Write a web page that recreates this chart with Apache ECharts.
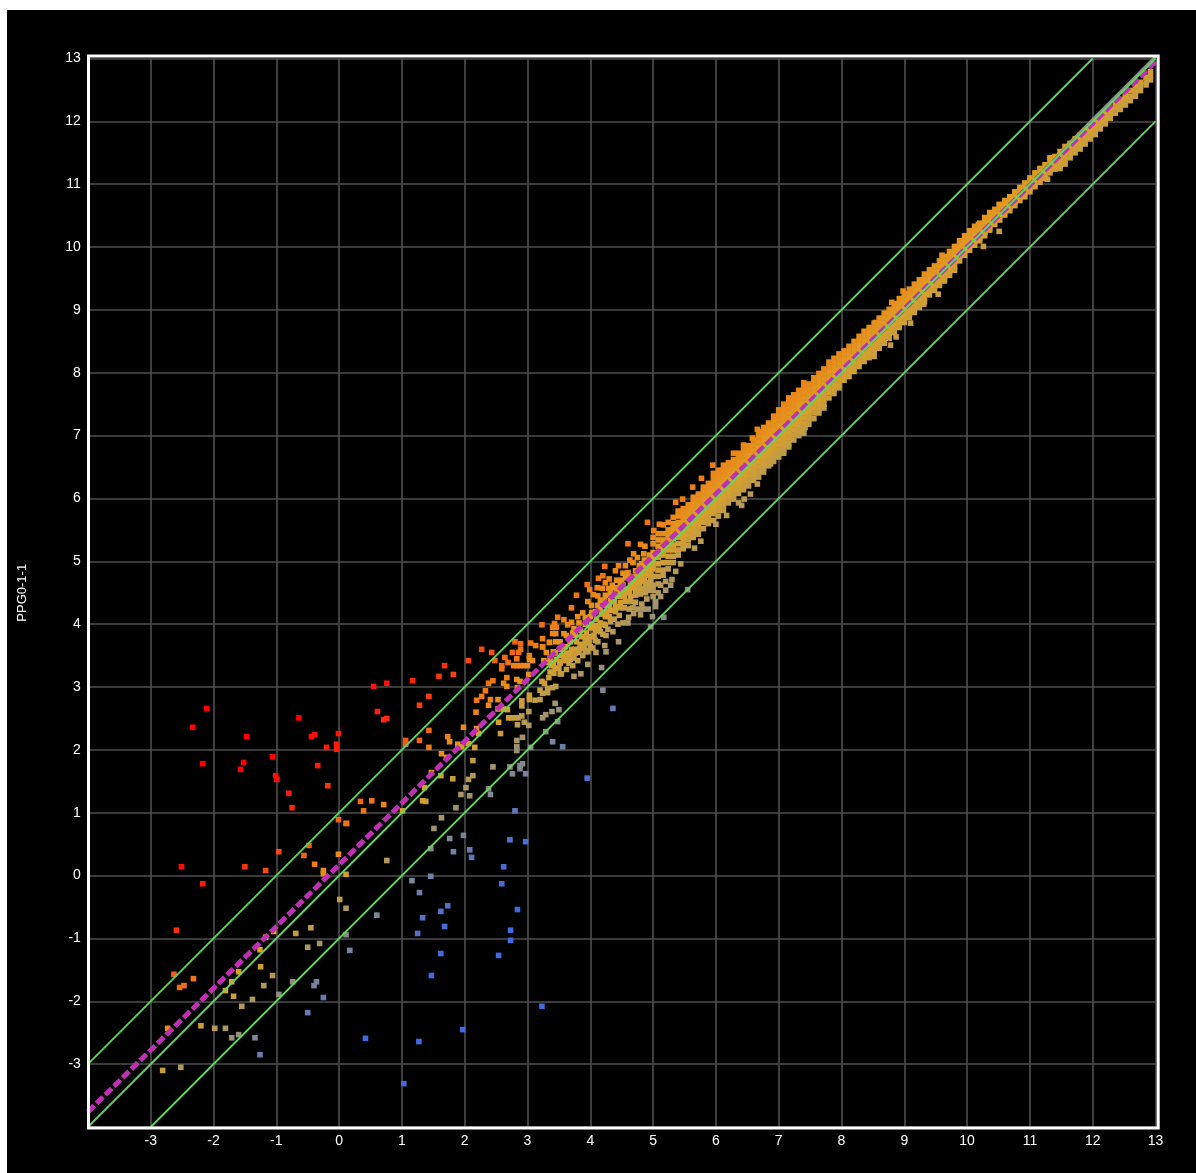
<!DOCTYPE html>
<html><head><meta charset="utf-8">
<style>
html,body{margin:0;padding:0;background:#fff;overflow:hidden}
#back{position:absolute;left:7px;top:10px;background:#000;width:1189px;height:1163px}
#chart{position:absolute;left:0;top:0;width:1196px;height:1173px}
</style>
<script src="https://cdn.jsdelivr.net/npm/echarts@6/dist/echarts.min.js"></script>
</head><body><div id="back"></div><div id="chart"></div>
<script>
const axisTicks = ['-3','-2','-1','0','1','2','3','4','5','6','7','8','9','10','11','12','13'];
const yAxisTitle = 'PPG0-1-1';
const lineUpper = [[-4,-3],[12,13]];
const lineMiddle = [[-4,-4],[13,13]];
const lineLower = [[-3,-4],[13,12]];
const lineGrey = [[11.4,11.43],[13,13.03]];
const lineFit = [[-4,-3.76],[13,12.95]];

const highOutliers = [[-2.11,2.66],[-2.33,2.36],[-0.64,2.51],[-1.47,2.21],[-0.39,2.24],[-0.44,2.21],[-0.01,2.26],[-0.04,2.09],[-0.04,2.01],[-0.2,2.04],[-1.06,1.89],[-2.17,1.78],[-1.52,1.8],[-1.57,1.69],[-0.34,1.75],[-1.01,1.59],[-0.99,1.53],[-0.18,1.43],[-0.8,1.31],[-0.75,1.08],[-0.01,0.89],[0.11,0.83],[-0.48,0.48],[-0.96,0.38],[-0.56,0.32],[-0.01,0.34],[-0.39,0.18],[-2.51,0.14],[-1.5,0.14],[-1.17,0.08],[-0.25,0.08],[-0.25,0.03],[-2.17,-0.13],[-2.59,-0.87],[-2.63,-1.57],[-2.32,-1.64],[-2.47,-1.75],[-2.54,-1.78],[-2.73,-2.43]];
const lowTail = [[0.01,-0.38],[0.11,0.02],[0.11,-0.52],[0.11,-0.94],[-0.45,-0.83],[-0.69,-0.92],[-1.04,-0.89],[-1.17,-0.98],[-0.31,-1.08],[-0.5,-1.14],[0.17,-1.19],[-1.26,-1.18],[-1.25,-1.45],[-1.6,-1.53],[-1.06,-1.59],[-1.71,-1.69],[-0.74,-1.69],[-0.36,-1.69],[-0.4,-1.75],[-1.2,-1.75],[-1.81,-1.83],[-0.96,-1.89],[-1.68,-1.92],[-1.38,-1.97],[-0.25,-1.94],[-1.55,-2.08],[-0.5,-2.18],[-2.2,-2.39],[-1.98,-2.43],[-1.81,-2.43],[-1.71,-2.58],[-1.6,-2.53],[-1.34,-2.58],[-1.26,-2.85],[-2.81,-3.1],[-2.52,-3.05]];
const upperScatter = [[0.55,3.01],[0.76,3.06],[1.17,3.1],[1.59,3.17],[1.68,3.34],[1.82,3.2],[2.06,3.42],[2.27,3.6],[2.43,3.55],[2.48,3.42],[2.64,3.47],[2.69,3.39],[2.59,3.34],[2.59,3.29],[2.8,3.72],[2.89,3.69],[2.76,3.55],[2.89,3.6],[2.86,3.55],[2.83,3.45],[2.78,3.34],[2.83,3.34],[2.89,3.34],[2.94,3.34],[3,3.34],[3.03,3.5],[3.03,3.44],[3.08,3.42],[3.05,3.7],[3.13,3.66],[3.24,3.64],[3.35,3.71],[3.45,3.72],[1.28,2.71],[1.43,2.85],[0.61,2.61],[0.76,2.5],[0.71,2.48],[2.38,3.06],[2.45,3.1],[2.67,3.15],[2.62,3.06],[2.67,3.01],[2.83,3.12],[2.88,3.09],[2.84,2.99],[2.33,2.94],[2.27,2.85],[2.19,2.79],[2.41,2.8],[2.53,2.8],[2.38,2.71],[2.18,2.6],[1.98,2.36],[1.43,2.31],[1.73,2.21],[1.76,2.13],[1.28,2.15],[1.06,2.15],[1.06,2.09],[1.43,2.04],[1.89,2.09],[1.95,2.05],[2.19,2.34],[2.22,2.26],[2.16,2.04],[2.06,2.1],[1.63,1.94],[1.71,1.88],[0.34,1.18],[0.52,1.19],[0.71,1.13],[0.39,1.03],[0.12,0.83],[1.47,1.64],[1.36,1.4],[1.01,1.03]];
const lowerScatter = [[2.13,1.83],[2.45,1.73],[2.72,1.73],[2.88,1.7],[2.88,1.75],[2.92,1.78],[2.76,1.62],[2.97,1.62],[1.62,1.59],[1.81,1.54],[2.13,1.59],[2.06,1.53],[2.02,1.4],[2.38,1.38],[2.41,1.29],[1.94,1.29],[2.08,1.27],[1.33,1.19],[1.38,1.18],[1.86,1.08],[2.8,1.03],[1.63,0.92],[1.51,0.75],[1.98,0.64],[1.76,0.59],[2.72,0.57],[2.97,0.54],[1.46,0.43],[1.82,0.38],[2.08,0.41],[2.11,0.29],[0.76,0.24],[3.02,2.61],[2.84,2.4],[3.02,2.39],[2.7,2.51],[2.75,2.51],[2.8,2.51],[2.85,2.51],[2.91,2.54],[2.95,2.44],[2.54,2.44],[2.57,2.26],[2.83,2.15],[2.92,2.2],[2.83,2.05],[2.83,1.99],[3.05,2.04],[3.29,2.29],[3.4,2.13],[3.48,2.45],[3.24,2.51],[3.29,2.56],[3.39,2.61],[3.5,2.64],[3.44,2.74],[2.91,2.78],[2.91,2.7],[2.68,2.64],[2.62,2.65],[2.53,2.65],[3.03,2.87],[3.03,2.8],[3.12,2.79],[3.2,2.8],[3.2,2.95],[3.24,2.9],[3.32,2.98],[3.32,2.91],[3.4,2.99],[3.45,3.01],[3.23,3.09],[3.27,3.06],[3.34,3.15],[3.02,3.2],[3.26,3.42],[3.34,3.39],[3.41,3.37],[3.41,3.56],[3.51,3.4],[3.52,3.21]];
const blueScatter = [[0.6,-0.63],[1.46,-0.01],[1.16,-0.08],[1.28,-0.27],[2.62,0.14],[2.59,-0.13],[1.73,-0.48],[1.62,-0.57],[1.33,-0.67],[2.84,-0.54],[1.68,-0.81],[1.25,-0.92],[2.73,-0.87],[2.73,-1.03],[1.62,-1.24],[2.54,-1.27],[1.47,-1.59],[3.23,-2.08],[1.97,-2.45],[0.42,-2.59],[1.27,-2.64],[1.03,-3.31],[3.95,1.55],[4.2,2.95],[4.36,2.66],[3.56,2.05]];
const midUpper = [[4.6,5.28],[4.8,5.27],[4.87,5.24],[4.69,5.12],[4.85,5.12],[4.75,5.06],[4.23,4.92],[4.45,4.93],[4.4,4.85],[4.56,4.93],[4.52,4.81],[4.2,4.77],[4.13,4.73],[3.95,4.63],[3.99,4.55],[4.05,4.47],[3.78,4.46],[3.7,4.26],[3.8,4.12],[4.11,4.58],[4.19,4.57],[4.24,4.66],[4.29,4.57],[3.48,4.11],[3.58,4.07],[3.23,3.99],[3.43,4.01],[3.4,3.95],[3.46,3.95],[3.7,4.03],[3.64,3.99],[3.24,3.77],[3.35,3.71],[3.24,3.64],[3.45,3.85],[3.58,3.85],[3.4,3.85],[3.74,3.93],[3.88,4.18],[3.96,4.36],[4.02,4.3],[4.12,4.45],[4.3,4.72],[4.35,4.62],[4.42,4.7],[4.5,4.7],[4.6,4.82],[4.68,4.98],[4.78,4.93],[4.86,5.02],[4.94,5.1],[4.63,5.02],[3.3,3.55],[3.52,3.72],[3.62,3.82],[3.72,3.86],[3.82,4.02],[3.92,4.1],[4.02,4.18],[4.12,4.3],[4.22,4.38],[4.32,4.48],[4.42,4.56],[4.52,4.62],[4.62,4.76],[4.72,4.85],[4.82,4.96],[4.92,4.98]];
const midLower = [[5.3,4.71],[5.55,4.55],[4.99,4.12],[5.17,4.11],[4.96,3.96],[4.8,4.15],[4.69,4.17],[4.61,4.11],[4.45,3.72],[4.25,3.82],[4.23,3.66],[4.25,3.56],[4.09,3.55],[3.96,3.36],[3.85,3.21],[4.18,3.31],[3.74,3.17],[3.54,3.21],[4.9,4.4],[4.82,4.32],[4.72,4.35],[4.62,4.24],[4.54,4.26],[4.46,4.14],[4.38,4.08],[4.3,4.12],[4.22,4],[4.14,3.94],[4.06,3.82],[3.98,3.72],[3.9,3.64],[3.82,3.55],[3.74,3.46],[3.66,3.38],[3.58,3.42],[3.5,3.3],[3.42,3.22],[3.62,3.28],[3.72,3.34],[3.8,3.42],[3.88,3.5],[3.96,3.56],[4.04,3.62],[4.12,3.72],[4.2,3.84],[4.28,3.92],[4.36,3.88],[4.44,4],[4.52,4.02],[4.6,4.02],[4.68,4.26],[4.76,4.24],[4.84,4.24],[4.92,4.24],[5,4.44],[5.08,4.5],[4.3,4.3],[4.38,4.36],[4.46,4.44],[4.54,4.44],[4.62,4.52],[4.7,4.6],[4.78,4.62],[4.86,4.72],[4.94,4.78],[4.1,4.08],[4.02,4],[3.94,3.86],[3.86,3.8],[3.78,3.72],[3.7,3.6],[3.62,3.54],[3.54,3.5],[4.18,4.16],[4.26,4.2],[3.46,3.44],[3.38,3.34]];
const midFill = [[4.96,5.06],[4.96,4.98],[4.96,4.9],[4.96,4.82],[4.96,4.7],[4.96,4.62],[4.96,4.54],[4.88,4.96],[4.88,4.88],[4.88,4.8],[4.88,4.66],[4.88,4.58],[4.88,4.5],[4.8,4.84],[4.8,4.76],[4.8,4.68],[4.8,4.56],[4.8,4.48],[4.72,4.76],[4.72,4.68],[4.72,4.54],[4.72,4.46],[4.64,4.66],[4.64,4.58],[4.64,4.44],[4.64,4.36],[4.56,4.74],[4.56,4.56],[4.56,4.5],[4.56,4.36],[4.48,4.62],[4.48,4.52],[4.48,4.34],[4.48,4.26],[4.4,4.58],[4.4,4.46],[4.4,4.28],[4.4,4.2],[4.32,4.56],[4.32,4.38],[4.32,4.22],[4.32,4.04],[4.24,4.46],[4.24,4.3],[4.24,4.12],[4.24,3.98],[4.16,4.38],[4.16,4.24],[4.16,4.02],[4.16,3.88],[4.08,4.2],[4.08,3.98],[4.08,3.9],[4.08,3.74],[4,4.12],[4,3.94],[4,3.8],[4,3.64],[3.92,4],[3.92,3.78],[3.92,3.7],[3.92,3.58],[3.84,3.9],[3.84,3.68],[3.84,3.62],[3.76,3.82],[3.76,3.6],[3.76,3.54],[3.68,3.72],[3.68,3.52],[3.68,3.44],[3.6,3.64],[3.6,3.46],[3.52,3.6],[3.52,3.38],[3.44,3.54],[3.44,3.3],[3.36,3.46],[3.36,3.24],[5.04,4.36],[5.04,4.28],[5.12,4.62],[5.12,4.44],[5.2,4.68],[5.2,4.54],[5.28,4.62],[5.36,4.84],[5.44,4.96]];
const bandOutliers = [[10.51,10.25],[10.26,10.01],[9.54,9.25],[9.31,9.09],[9.1,8.79],[8.87,8.57],[8.78,8.44],[8.52,8.26],[10.51,10.68],[10.18,10.36],[9.6,9.87],[8.98,9.3],[8.8,9.12],[8.54,8.8],[6.66,7.1],[7.42,7.13],[6.87,6.55],[6.66,6.23],[6.55,6.07],[6.45,5.99],[6.41,5.89],[6.36,5.93],[6.17,5.73],[6,5.59],[5.76,5.32],[5.66,5.21],[4.91,5.62],[5.01,5.49],[5.1,5.59],[5.36,5.94],[5.47,5.99],[5.63,6.18],[5.77,6.32],[5.95,6.53],[6.28,6.72],[6.58,6.96],[6.84,7.2],[7.08,7.44],[7.16,7.53],[7.4,7.84],[11.32,11.42],[11.28,11.08]];

// Each column below: x first, then the y values read at that x.
const bandColumns11to13 = [
[12.92,12.79,12.72,12.66],[12.85,12.7,12.63,12.58],[12.76,12.62,12.55,12.49],[12.68,12.56,12.48,12.4],[12.6,12.49,12.4,12.33],[12.52,12.41,12.34,12.26],[12.44,12.35,12.27,12.19],[12.36,12.29,12.21,12.13],[12.28,12.2,12.12,12.05],[12.2,12.15,12.07,12,11.96],[12.12,12.08,12,11.92,11.88],[12.04,12,11.93,11.86,11.79],[11.96,11.92,11.84,11.77,11.72],[11.88,11.85,11.77,11.7,11.64],[11.8,11.78,11.7,11.62,11.56],[11.72,11.72,11.64,11.56,11.5],[11.64,11.65,11.57,11.49,11.42],[11.56,11.6,11.52,11.44,11.36,11.32],[11.48,11.52,11.45,11.37,11.3,11.25],[11.4,11.44,11.36,11.29,11.24],[11.32,11.39,11.31,11.23,11.18],[11.24,11.31,11.23,11.15,11.09],[11.16,11.25,11.17,11.09,11.03],[11.08,11.18,11.1,11.02,10.96],[11,11.1,11.02,10.94,10.88]];
const bandColumns9to11 = [
[10.92,11.02,10.94,10.86,10.8],[10.84,10.95,10.87,10.79,10.74],[10.76,10.88,10.8,10.72,10.66],[10.68,10.8,10.72,10.64,10.58],[10.6,10.74,10.66,10.58,10.51],[10.52,10.66,10.58,10.5,10.43],[10.44,10.6,10.52,10.44,10.36],[10.36,10.55,10.47,10.39,10.31,10.27],[10.28,10.47,10.39,10.31,10.23,10.18],[10.2,10.38,10.3,10.22,10.14,10.1],[10.12,10.33,10.25,10.17,10.09,10.03],[10.04,10.26,10.18,10.1,10.02,9.95],[9.96,10.18,10.1,10.02,9.94,9.87],[9.88,10.1,10.02,9.94,9.86,9.78],[9.8,10.01,9.93,9.85,9.77,9.69,9.63],[9.72,9.93,9.85,9.77,9.69,9.61,9.55],[9.64,9.85,9.77,9.69,9.61,9.53,9.46],[9.56,9.78,9.7,9.62,9.54,9.46,9.39],[9.48,9.7,9.62,9.54,9.46,9.38,9.31],[9.4,9.64,9.56,9.48,9.4,9.32,9.24],[9.32,9.57,9.49,9.41,9.33,9.25,9.17,9.13],[9.24,9.48,9.4,9.32,9.24,9.16,9.08,9.04],[9.16,9.41,9.33,9.25,9.17,9.09,9.01,8.96],[9.08,9.33,9.25,9.17,9.09,9.01,8.93,8.88],[9,9.26,9.18,9.1,9.02,8.94,8.86,8.8]];
const bandColumns7to9 = [
[8.92,9.18,9.1,9.02,8.94,8.86,8.78,8.72],[8.84,9.1,9.02,8.94,8.86,8.78,8.7,8.64],[8.76,9.01,8.93,8.85,8.77,8.69,8.61,8.55],[8.68,8.95,8.87,8.79,8.71,8.63,8.55,8.47],[8.6,8.87,8.79,8.71,8.63,8.55,8.47,8.39],[8.52,8.79,8.71,8.63,8.55,8.47,8.39,8.31],[8.44,8.72,8.64,8.56,8.48,8.4,8.32,8.24],[8.36,8.66,8.58,8.5,8.42,8.34,8.26,8.18],[8.28,8.58,8.5,8.42,8.34,8.26,8.18,8.1],[8.2,8.5,8.42,8.34,8.26,8.18,8.1,8.02],[8.12,8.42,8.34,8.26,8.18,8.1,8.02,7.94],[8.04,8.35,8.27,8.19,8.11,8.03,7.95,7.88],[7.96,8.3,8.22,8.14,8.06,7.98,7.9,7.82,7.76],[7.88,8.23,8.15,8.07,7.99,7.91,7.83,7.75,7.67],[7.8,8.17,8.09,8.01,7.93,7.85,7.77,7.69,7.6],[7.72,8.06,7.98,7.9,7.82,7.74,7.66,7.58,7.5,7.44],[7.64,7.99,7.91,7.83,7.75,7.67,7.59,7.51,7.43,7.36],[7.56,7.92,7.84,7.76,7.68,7.6,7.52,7.44,7.36,7.27],[7.48,7.82,7.74,7.66,7.58,7.5,7.42,7.34,7.26,7.18],[7.4,7.76,7.68,7.6,7.52,7.44,7.36,7.28,7.2,7.11,7.04],[7.32,7.72,7.64,7.56,7.48,7.4,7.32,7.24,7.16,7.08,7],[7.24,7.65,7.57,7.49,7.41,7.33,7.25,7.17,7.09,7.01,6.93],[7.16,7.6,7.52,7.44,7.36,7.28,7.2,7.12,7.04,6.96,6.87,6.82],[7.08,7.5,7.42,7.34,7.26,7.18,7.1,7.02,6.94,6.86,6.78,6.72],[7,7.41,7.33,7.25,7.17,7.09,7.01,6.93,6.85,6.77,6.71,6.66]];
const bandColumns5to7 = [
[6.92,7.31,7.23,7.15,7.07,6.99,6.91,6.83,6.75,6.67,6.59],[6.84,7.16,7.08,7,6.92,6.84,6.76,6.68,6.6,6.52],[6.76,7.13,7.05,6.97,6.89,6.81,6.73,6.65,6.57,6.49,6.42],[6.68,7.06,6.98,6.9,6.82,6.74,6.66,6.58,6.5,6.42,6.34],[6.6,6.93,6.85,6.77,6.69,6.61,6.53,6.45,6.37,6.29],[6.52,6.84,6.76,6.68,6.6,6.52,6.44,6.36,6.28,6.2],[6.44,6.85,6.77,6.69,6.61,6.53,6.45,6.37,6.29,6.21,6.14],[6.36,6.72,6.64,6.56,6.48,6.4,6.32,6.24,6.16,6.08],[6.28,6.62,6.54,6.46,6.38,6.3,6.22,6.14,6.06,5.99],[6.2,6.57,6.49,6.41,6.33,6.25,6.17,6.09,6.01,5.93],[6.12,6.53,6.45,6.37,6.29,6.21,6.13,6.05,5.97,5.89,5.81],[6.04,6.45,6.37,6.29,6.21,6.13,6.05,5.97,5.89,5.81,5.72],[5.96,6.4,6.32,6.24,6.16,6.08,6,5.92,5.84,5.76,5.65],[5.88,6.24,6.16,6.08,6,5.92,5.84,5.76,5.68,5.6],[5.8,6.18,6.1,6.02,5.94,5.86,5.78,5.7,5.62,5.52],[5.72,6.07,5.99,5.91,5.83,5.75,5.67,5.59,5.51,5.43],[5.64,6.02,5.94,5.86,5.78,5.7,5.62,5.54,5.46,5.38],[5.56,5.9,5.82,5.74,5.66,5.58,5.5,5.42,5.34,5.25],[5.48,5.84,5.76,5.68,5.6,5.52,5.44,5.36,5.28,5.2],[5.4,5.8,5.72,5.62,5.54,5.46,5.38,5.28,5.18,5.1],[5.32,5.7,5.6,5.52,5.44,5.36,5.26,5.18,5.08,4.98],[5.24,5.62,5.5,5.42,5.34,5.26,5.18,5.08,4.98,4.88],[5.16,5.58,5.44,5.34,5.26,5.18,5.1,4.98,4.86,4.78],[5.08,5.44,5.34,5.24,5.14,5.06,4.96,4.86,4.76,4.64],[5,5.38,5.28,5.14,5.04,4.96,4.88,4.76,4.62,4.54]];

const scatterLists = [highOutliers, lowTail, upperScatter, lowerScatter, blueScatter, midUpper, midLower, midFill, bandOutliers];
const columnLists = [bandColumns11to13, bandColumns9to11, bandColumns7to9, bandColumns5to7];
const differenceColors = ['#4169e1','#4169e1','#4169e1','#4169e1','#4a6cd8','#5a72c8','#6e7eaa','#8c8c84','#b49a58','#dca024','#ee8018','#f55c14','#fa3a10','#ff1c0c','#ff0f08','#ff0000','#ff0000','#ff0000','#ff0000'];

const points = [];
scatterLists.forEach(list => list.forEach(p => points.push([p[0], p[1], p[1]-p[0]])));
columnLists.forEach(list => list.forEach(col => col.slice(1).forEach(y => points.push([col[0], y, y-col[0]]))));

const lineSeries = (data, color, width, z, dash) => ({
  type:'line', data, symbol:'none', silent:true, z, clip:true,
  lineStyle:{color, width, type: dash || 'solid', cap:'butt'}
});

const chart = echarts.init(document.getElementById('chart'), null, {renderer:'canvas'});
const font = {color:'#ffffff', fontFamily:'Liberation Sans, Arial, sans-serif', fontSize:14};
const axisBase = {
  type:'value', min:-4, max:13, interval:1,
  axisLine:{show:false}, axisTick:{show:false},
  splitLine:{show:true, lineStyle:{color:'#4e4e4e', width:1.6}},
  axisLabel:Object.assign({}, font, {
    margin:7, showMinLabel:true, showMaxLabel:true,
    formatter:v => axisTicks.includes(String(v)) ? String(v) : ''
  })
};
chart.setOption({
  animation:false,
  backgroundColor:'transparent',
  grid:{left:87.9, right:1196-1155.5, top:58.5, bottom:1173-1127, containLabel:false},
  xAxis:Object.assign({}, axisBase),
  yAxis:Object.assign({}, axisBase, {
    name:yAxisTitle, nameLocation:'middle', nameGap:59, nameRotate:90,
    nameTextStyle:{color:'#fff', fontFamily:'Liberation Sans, Arial, sans-serif', fontSize:13}
  }),
  visualMap:{show:false, type:'continuous', dimension:2, min:-4.5, max:4.5, seriesIndex:1, inRange:{color:differenceColors}},
  series:[
    lineSeries(lineGrey,'#8f8f8f',2.8,2),
    {type:'scatter', data:points, symbol:'rect', symbolSize:5.6, silent:true, z:3, large:false, itemStyle:{opacity:1}},
    lineSeries(lineFit,'#c030b4',5,4,[9,3.2]),
    lineSeries(lineUpper,'#5fd85f',1.8,5),
    lineSeries(lineMiddle,'#5fd85f',1.8,5),
    lineSeries(lineLower,'#5fd85f',1.8,5)
  ],
  graphic:[{type:'rect', z:100, silent:true, shape:{x:88.5,y:56,width:1069.7,height:1072}, style:{fill:'none', stroke:'#ffffff', lineWidth:3}}]
});
</script></body></html>
